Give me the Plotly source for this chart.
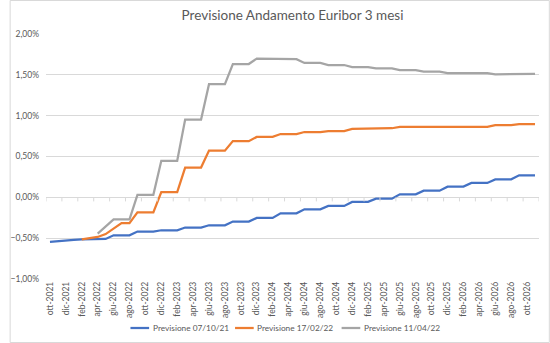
import plotly.graph_objects as go

months = ["ott-2021", "nov-2021", "dic-2021",
          "gen-2022", "feb-2022", "mar-2022", "apr-2022", "mag-2022", "giu-2022",
          "lug-2022", "ago-2022", "set-2022", "ott-2022", "nov-2022", "dic-2022",
          "gen-2023", "feb-2023", "mar-2023", "apr-2023", "mag-2023", "giu-2023",
          "lug-2023", "ago-2023", "set-2023", "ott-2023", "nov-2023", "dic-2023",
          "gen-2024", "feb-2024", "mar-2024", "apr-2024", "mag-2024", "giu-2024",
          "lug-2024", "ago-2024", "set-2024", "ott-2024", "nov-2024", "dic-2024",
          "gen-2025", "feb-2025", "mar-2025", "apr-2025", "mag-2025", "giu-2025",
          "lug-2025", "ago-2025", "set-2025", "ott-2025", "nov-2025", "dic-2025",
          "gen-2026", "feb-2026", "mar-2026", "apr-2026", "mag-2026", "giu-2026",
          "lug-2026", "ago-2026", "set-2026", "ott-2026", "nov-2026"]

# values in percent
prev_071021 = [-0.545, -0.535, -0.527, -0.520, -0.516, -0.513, -0.511, -0.510,
               -0.465, -0.465, -0.465, -0.419, -0.419, -0.419,
               -0.403, -0.403, -0.403, -0.370, -0.370, -0.370,
               -0.342, -0.342, -0.342, -0.297, -0.297, -0.297,
               -0.252, -0.252, -0.252, -0.196, -0.196, -0.196,
               -0.147, -0.147, -0.147, -0.105, -0.105, -0.105,
               -0.056, -0.056, -0.056, -0.016, -0.016, -0.016,
               0.037, 0.037, 0.037, 0.082, 0.082, 0.082,
               0.131, 0.131, 0.131, 0.176, 0.176, 0.176,
               0.220, 0.220, 0.220, 0.269, 0.269, 0.269]

prev_170222 = [None, None, None, None,
               -0.516, -0.505, -0.485, -0.450,
               -0.380, -0.315, -0.315, -0.185, -0.185, -0.185,
               0.065, 0.065, 0.065, 0.365, 0.365, 0.365,
               0.572, 0.572, 0.572, 0.688, 0.688, 0.688,
               0.740, 0.740, 0.740, 0.775, 0.775, 0.775,
               0.800, 0.800, 0.800, 0.811, 0.811, 0.811,
               0.838, 0.838, 0.838, 0.846, 0.846, 0.846,
               0.862, 0.862, 0.862, 0.862, 0.862, 0.862,
               0.862, 0.862, 0.862, 0.862, 0.862, 0.862,
               0.884, 0.884, 0.884, 0.895, 0.895, 0.895]

prev_110422 = [None, None, None, None, None, None,
               -0.445, -0.355,
               -0.270, -0.270, -0.270, 0.030, 0.030, 0.030,
               0.447, 0.447, 0.447, 0.952, 0.952, 0.952,
               1.385, 1.385, 1.385, 1.632, 1.632, 1.632,
               1.698, 1.698, 1.698, 1.692, 1.692, 1.692,
               1.645, 1.645, 1.645, 1.620, 1.620, 1.620,
               1.595, 1.595, 1.595, 1.580, 1.580, 1.580,
               1.558, 1.558, 1.558, 1.539, 1.539, 1.539,
               1.522, 1.522, 1.522, 1.522, 1.522, 1.522,
               1.506, 1.506, 1.506, 1.513, 1.513, 1.513]

series_names = ["Previsione 07/10/21", "Previsione 17/02/22", "Previsione 11/04/22"]
series_values = [prev_071021, prev_170222, prev_110422]
series_colors = ["#4472C4", "#ED7D31", "#A5A5A5"]

FONT = "Lato"
TXT = "#595959"
GRID = "#D9D9D9"

L, R, T, B, W, H = 37, 11, 34, 64, 550, 343
pw, ph = W - L - R, H - T - B


def px_x(X):
    return (X - L) / pw


def px_y(Y):
    return (H - B - Y) / ph


fig = go.Figure()
for name, vals, col in zip(series_names, series_values, series_colors):
    fig.add_trace(go.Scatter(
        x=months, y=[v / 100 if v is not None else None for v in vals],
        mode="lines", name=name,
        line=dict(color=col, width=2.25),
        connectgaps=False, hoverinfo="skip", showlegend=False))

shapes = []
# category tick marks on the 0% axis line, every 2 months at category boundaries
for k in range(0, len(months) + 1, 2):
    shapes.append(dict(type="line", xref="x", yref="y",
                       x0=k - 0.5, x1=k - 0.5, y0=0, y1=-0.0005,
                       line=dict(color=GRID, width=1)))
# chart-area border
shapes.append(dict(type="rect", xref="paper", yref="paper",
                   x0=px_x(0.5), x1=px_x(W - 0.5),
                   y0=px_y(H - 0.5), y1=px_y(0.5),
                   line=dict(color=GRID, width=1), layer="below"))

# legend (bottom, horizontal)
annotations = []
legend_y = 328
legend_starts = [123, 229.5, 338]
for name, col, x0 in zip(series_names, series_colors, legend_starts):
    shapes.append(dict(type="line", xref="paper", yref="paper",
                       x0=px_x(x0), x1=px_x(x0 + 19),
                       y0=px_y(legend_y), y1=px_y(legend_y),
                       line=dict(color=col, width=2.25)))
    annotations.append(dict(text=name, xref="paper", yref="paper",
                            x=px_x(x0 + 20.5), y=px_y(legend_y),
                            xanchor="left", yanchor="middle", showarrow=False,
                            font=dict(family=FONT, size=8.3, color=TXT)))

fig.update_layout(
    width=W, height=H,
    margin=dict(l=L, r=R, t=T, b=B, pad=0),
    paper_bgcolor="white", plot_bgcolor="white",
    separators=",.",
    font=dict(family=FONT, color=TXT, size=9),
    title=dict(text="Previsione Andamento Euribor 3 mesi",
               x=0.5, xref="paper", xanchor="center",
               y=1 - 15 / H, yref="container", yanchor="middle",
               font=dict(family=FONT, size=13.5, color=TXT)),
    showlegend=False,
    shapes=shapes,
    annotations=annotations,
)
fig.update_xaxes(
    type="category", range=[-0.5, len(months) - 0.5],
    tickmode="array", tickvals=months[::2], ticktext=months[::2],
    tickangle=-90, ticks="", showgrid=False, showline=False, zeroline=False,
    tickfont=dict(family=FONT, size=8.5, color=TXT))
fig.update_yaxes(
    range=[-0.01, 0.02], tickmode="array",
    tickvals=[-0.01, -0.005, 0, 0.005, 0.01, 0.015, 0.02],
    tickformat=".2%", showgrid=True, gridcolor=GRID, gridwidth=1,
    zeroline=True, zerolinecolor=GRID, zerolinewidth=1,
    showline=False, ticks="", ticklabelstandoff=6,
    tickfont=dict(family=FONT, size=8.5, color=TXT))

fig.write_html("out.html")
